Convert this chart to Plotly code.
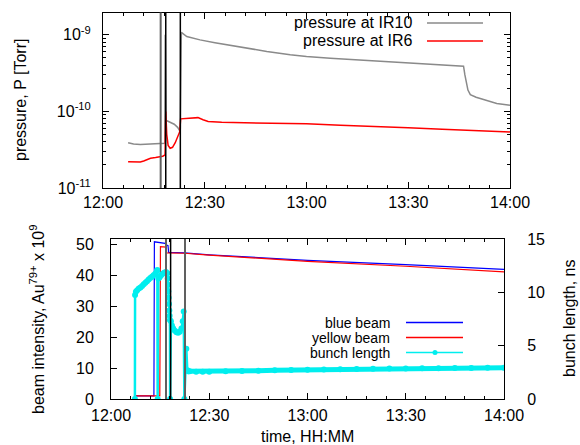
import plotly.graph_objects as go

# ---------------- data (time in minutes after 12:00) ----------------
time_tick_vals = [0, 30, 60, 90, 120]
time_tick_text = ["12:00", "12:30", "13:00", "13:30", "14:00"]

pressure_tick_vals = [1e-11, 1e-10, 1e-9]
pressure_tick_text = ["10<sup>-11</sup>", "10<sup>-10</sup>", "10<sup>-9</sup>"]

# pressure at IR10 [Torr]
ir10_t = [7.4, 9.0, 11.0, 13.0, 15.0, 16.9, 18.2, 18.35, 18.6, 19.0, 20.0, 21.0, 22.0, 22.6,
          22.8, 23.1, 24.7, 28.6, 33.0, 38.4, 43.0, 48.3, 55.2, 60.0, 67.0, 75.0, 82.0,
          90.0, 98.0, 106.3, 106.7, 107.2, 107.6, 108.3, 110.0, 112.2, 116.1, 120.0]
ir10_p = [3.9e-11, 3.75e-11, 3.7e-11, 3.72e-11, 3.75e-11, 3.8e-11, 3.85e-11, 1.0e-9, 7.6e-11,
          7.5e-11, 7.2e-11, 6.8e-11, 6.2e-11, 5.6e-11,
          6.0e-11, 1.08e-9, 9.5e-10, 8.6e-10, 7.9e-10, 7.2e-10, 6.6e-10, 6.07e-10, 5.5e-10,
          5.2e-10, 4.95e-10, 4.7e-10, 4.5e-10,
          4.3e-10, 4.1e-10, 3.9e-10, 3.0e-10, 2.2e-10, 1.9e-10, 1.66e-10, 1.53e-10, 1.43e-10,
          1.27e-10, 1.2e-10]

# pressure at IR6 [Torr]
ir6_t = [7.4, 9.0, 11.0, 12.0, 13.0, 14.0, 15.5, 16.9, 17.6, 18.3, 18.5, 18.8, 19.2, 19.8,
         20.5, 21.3, 22.0, 22.6, 22.9, 24.0, 26.0, 28.0, 29.5, 31.0, 35.0, 40.0, 50.0,
         60.0, 70.0, 80.0, 90.0, 100.0, 110.0, 120.0]
ir6_p = [2.2e-11, 2.2e-11, 2.18e-11, 2.25e-11, 2.35e-11, 2.45e-11, 2.5e-11, 2.55e-11, 2.6e-11,
         2.7e-11, 1.0e-10, 5.0e-11, 3.6e-11, 3.3e-11,
         3.4e-11, 3.9e-11, 4.6e-11, 5.4e-11, 8.0e-11, 8.1e-11, 8.3e-11, 8.3e-11, 7.8e-11,
         7.4e-11, 7.2e-11, 7.15e-11, 7.0e-11,
         6.9e-11, 6.6e-11, 6.4e-11, 6.1e-11, 5.85e-11, 5.6e-11, 5.4e-11]

# beam intensity, Au79+ x 1e9
blue_t = [7.3, 10.0, 13.1, 13.25, 15.0, 16.5, 16.9, 17.4, 17.6, 22.5, 30.0, 60.0, 90.0, 120.0]
blue_n = [1.0, 1.0, 1.0, 50.8, 50.6, 50.3, 49.7, 49.6, 47.4, 47.2, 46.6, 44.8, 43.4, 41.9]

yellow_t = [7.3, 10.0, 14.9, 15.1, 16.8, 17.0, 22.5, 30.0, 60.0, 90.0, 120.0]
yellow_n = [1.0, 1.0, 1.0, 49.2, 49.1, 47.2, 47.1, 46.5, 44.5, 42.9, 41.1]

# bunch length, ns
bunch_t = [7.3, 7.35, 7.6, 8.0, 8.5, 9.0, 9.5, 10.0, 10.5, 11.0, 11.5, 12.0, 12.5, 13.0,
           13.5, 14.0, 14.15, 14.25, 14.45, 14.8, 15.2, 15.6, 16.0, 16.4, 16.8, 17.2,
           17.3, 17.4, 17.5, 17.6, 17.7, 17.8, 17.9, 18.0, 18.05, 18.3, 18.6, 19.0, 19.5,
           20.0, 20.5, 21.0, 21.5, 21.9, 22.2, 22.4, 23.0, 23.3, 23.6,
           24.0, 26.0, 28.0, 30.0, 35.0, 40.0, 45.0, 50.0, 55.0, 60.0, 65.0, 70.0, 75.0,
           80.0, 85.0, 90.0, 95.0, 100.0, 105.0, 110.0, 115.0, 120.0]
bunch_ns = [0.0, 9.75, 10.05, 10.2, 10.35, 10.45, 10.6, 10.75, 10.9, 11.05, 11.2, 11.35, 11.45, 11.6,
            11.75, 12.0, 12.1, 0.0, 11.3, 11.4, 11.55, 11.7, 11.8, 11.85, 11.9, 11.8,
            11.3, 10.7, 10.1, 9.5, 8.9, 8.3, 7.8, 7.4, 0.0, 7.3, 6.9, 6.6, 6.4,
            6.25, 6.2, 6.3, 6.6, 7.3, 8.2, 0.0, 4.7, 2.7, 2.6,
            2.6, 2.55, 2.55, 2.56, 2.6, 2.63, 2.66, 2.7, 2.72, 2.75, 2.77, 2.79, 2.81,
            2.83, 2.85, 2.86, 2.88, 2.89, 2.9, 2.91, 2.92, 2.93]
bunch_split = 49  # index where the steady (densely sampled) part begins

# event markers (vertical lines), minutes after 12:00
events_top = [17.0, 18.5, 22.8]
events_top_colors = ["#606060", "black", "black"]
events_bottom = [16.8, 18.2, 22.6]
events_bottom_colors = ["#606060", "black", "#606060"]

# ---------------- figure ----------------
W, H = 580, 445
FONT = "Liberation Sans, Arial, sans-serif"
GRAY = "#8a8a8a"
RED = "#ff0000"
BLUE = "#0000ff"
CYAN = "#00eeee"

fig = go.Figure()

fig.add_trace(go.Scatter(x=ir10_t, y=ir10_p, mode="lines", name="pressure at IR10",
                         line=dict(color=GRAY, width=1.5), xaxis="x", yaxis="y", showlegend=False))
fig.add_trace(go.Scatter(x=ir6_t, y=ir6_p, mode="lines", name="pressure at IR6",
                         line=dict(color=RED, width=1.5), xaxis="x", yaxis="y", showlegend=False))

fig.add_trace(go.Scatter(x=blue_t, y=blue_n, mode="lines", name="blue beam",
                         line=dict(color=BLUE, width=1.2), xaxis="x2", yaxis="y3", showlegend=False))
fig.add_trace(go.Scatter(x=yellow_t, y=yellow_n, mode="lines", name="yellow beam",
                         line=dict(color=RED, width=1.2), xaxis="x2", yaxis="y3", showlegend=False))
fig.add_trace(go.Scatter(x=bunch_t[:bunch_split], y=bunch_ns[:bunch_split], mode="lines+markers",
                         name="bunch length", line=dict(color=CYAN, width=2.5),
                         marker=dict(color=CYAN, size=6), xaxis="x2", yaxis="y4", showlegend=False))
fig.add_trace(go.Scatter(x=bunch_t[bunch_split - 1:], y=bunch_ns[bunch_split - 1:], mode="lines+markers",
                         name="bunch length", line=dict(color=CYAN, width=5),
                         marker=dict(color=CYAN, size=6), xaxis="x2", yaxis="y4", showlegend=False))

shapes = []
for t, c in zip(events_top, events_top_colors):
    shapes.append(dict(type="line", xref="x", yref="y domain", x0=t, x1=t, y0=0, y1=1,
                       line=dict(color=c, width=1.5 if c == "black" else 2), layer="above"))
for t, c in zip(events_bottom, events_bottom_colors):
    shapes.append(dict(type="line", xref="x2", yref="y3 domain", x0=t, x1=t, y0=0, y1=1,
                       line=dict(color=c, width=1.5 if c == "black" else 2), layer="above"))


def px(x):
    return x / W


def py(y):
    return 1 - y / H


annotations = []
# gnuplot-style keys (text right-aligned, sample to the right)
key_top = [("pressure at IR10", GRAY, 23), ("pressure at IR6", RED, 41)]
for txt, col, yy in key_top:
    annotations.append(dict(text=txt, x=px(414), y=py(yy), xref="paper", yref="paper",
                            xanchor="right", yanchor="middle", showarrow=False,
                            font=dict(size=16, family=FONT, color="black")))
    shapes.append(dict(type="line", xref="paper", yref="paper", x0=px(427), x1=px(483),
                       y0=py(yy), y1=py(yy), line=dict(color=col, width=1.5)))

key_bot = [("blue beam", BLUE, 322.5), ("yellow beam", RED, 337.5), ("bunch length", CYAN, 352.5)]
for txt, col, yy in key_bot:
    annotations.append(dict(text=txt, x=px(392), y=py(yy), xref="paper", yref="paper",
                            xanchor="right", yanchor="middle", showarrow=False,
                            font=dict(size=14, family=FONT, color="black")))
    shapes.append(dict(type="line", xref="paper", yref="paper", x0=px(406), x1=px(463),
                       y0=py(yy), y1=py(yy), line=dict(color=col, width=1.3)))
shapes.append(dict(type="circle", xref="paper", yref="paper", x0=px(432.5), x1=px(437.5),
                   y0=py(355), y1=py(350), fillcolor=CYAN, line=dict(color=CYAN, width=0)))

# axis titles
title_font = dict(size=16, family=FONT, color="black")
annotations.append(dict(text="pressure, P [Torr]", x=px(20), y=py(100), xref="paper", yref="paper",
                        textangle=-90, showarrow=False, xanchor="center", yanchor="middle",
                        font=title_font))
annotations.append(dict(text="beam intensity, Au<sup>79+</sup> x 10<sup>9</sup>", x=px(37), y=py(320),
                        xref="paper", yref="paper", textangle=-90, showarrow=False,
                        xanchor="center", yanchor="middle", font=title_font))
annotations.append(dict(text="bunch length, ns", x=px(569), y=py(319), xref="paper", yref="paper",
                        textangle=-90, showarrow=False, xanchor="center", yanchor="middle",
                        font=title_font))
annotations.append(dict(text="time, HH:MM", x=px(307.5), y=py(436), xref="paper", yref="paper",
                        showarrow=False, xanchor="center", yanchor="middle", font=title_font))

minor_log = [m * 10.0 ** e for e in (-11, -10, -9) for m in range(2, 10)]

axis_common = dict(showline=True, linecolor="black", linewidth=1, showgrid=False, zeroline=False,
                   ticks="inside", tickcolor="black", ticklen=6, tickwidth=1, automargin=False,
                   tickfont=dict(size=16, family=FONT, color="black"))

fig.update_layout(
    width=W, height=H,
    margin=dict(l=0, r=0, t=0, b=0, autoexpand=False),
    paper_bgcolor="white", plot_bgcolor="white",
    font=dict(family=FONT, size=16, color="black"),
    showlegend=False,
    hovermode=False,
    shapes=shapes,
    annotations=annotations,
    xaxis=dict(domain=[px(103), px(510)], anchor="y", range=[0, 120],
               tickmode="array", tickvals=time_tick_vals, ticktext=time_tick_text,
               mirror="ticks", ticklabelstandoff=0,
               minor=dict(dtick=6, ticks="inside", ticklen=3, tickcolor="black"),
               **axis_common),
    yaxis=dict(domain=[py(188), py(12.5)], anchor="x", type="log", range=[-11, -8.708],
               tickmode="array", tickvals=pressure_tick_vals, ticktext=pressure_tick_text,
               mirror="ticks", ticklabelstandoff=8,
               minor=dict(tickmode="array", tickvals=minor_log, ticks="inside", ticklen=3,
                          tickcolor="black"),
               **axis_common),
    xaxis2=dict(domain=[px(111), px(504)], anchor="y3", range=[0, 120],
                tickmode="array", tickvals=time_tick_vals, ticktext=time_tick_text,
                mirror="ticks", ticklabelstandoff=2,
                minor=dict(dtick=6, ticks="inside", ticklen=3, tickcolor="black"),
                **axis_common),
    yaxis3=dict(domain=[py(399), py(239)], anchor="x2", range=[0, 51.7],
                tickmode="array", tickvals=[0, 10, 20, 30, 40, 50],
                mirror=False, ticklabelstandoff=13,
                **axis_common),
    yaxis4=dict(anchor="x2", overlaying="y3", side="right", range=[0, 15],
                tickmode="array", tickvals=[0, 5, 10, 15], ticklabelstandoff=19,
                **axis_common),
)

# remove the default 8px page margin so the figure sits at the window's top-left corner
fig.write_html("out.html", config={"displayModeBar": False},
               post_script="document.body.style.margin='0px';document.body.style.overflow='hidden';")
